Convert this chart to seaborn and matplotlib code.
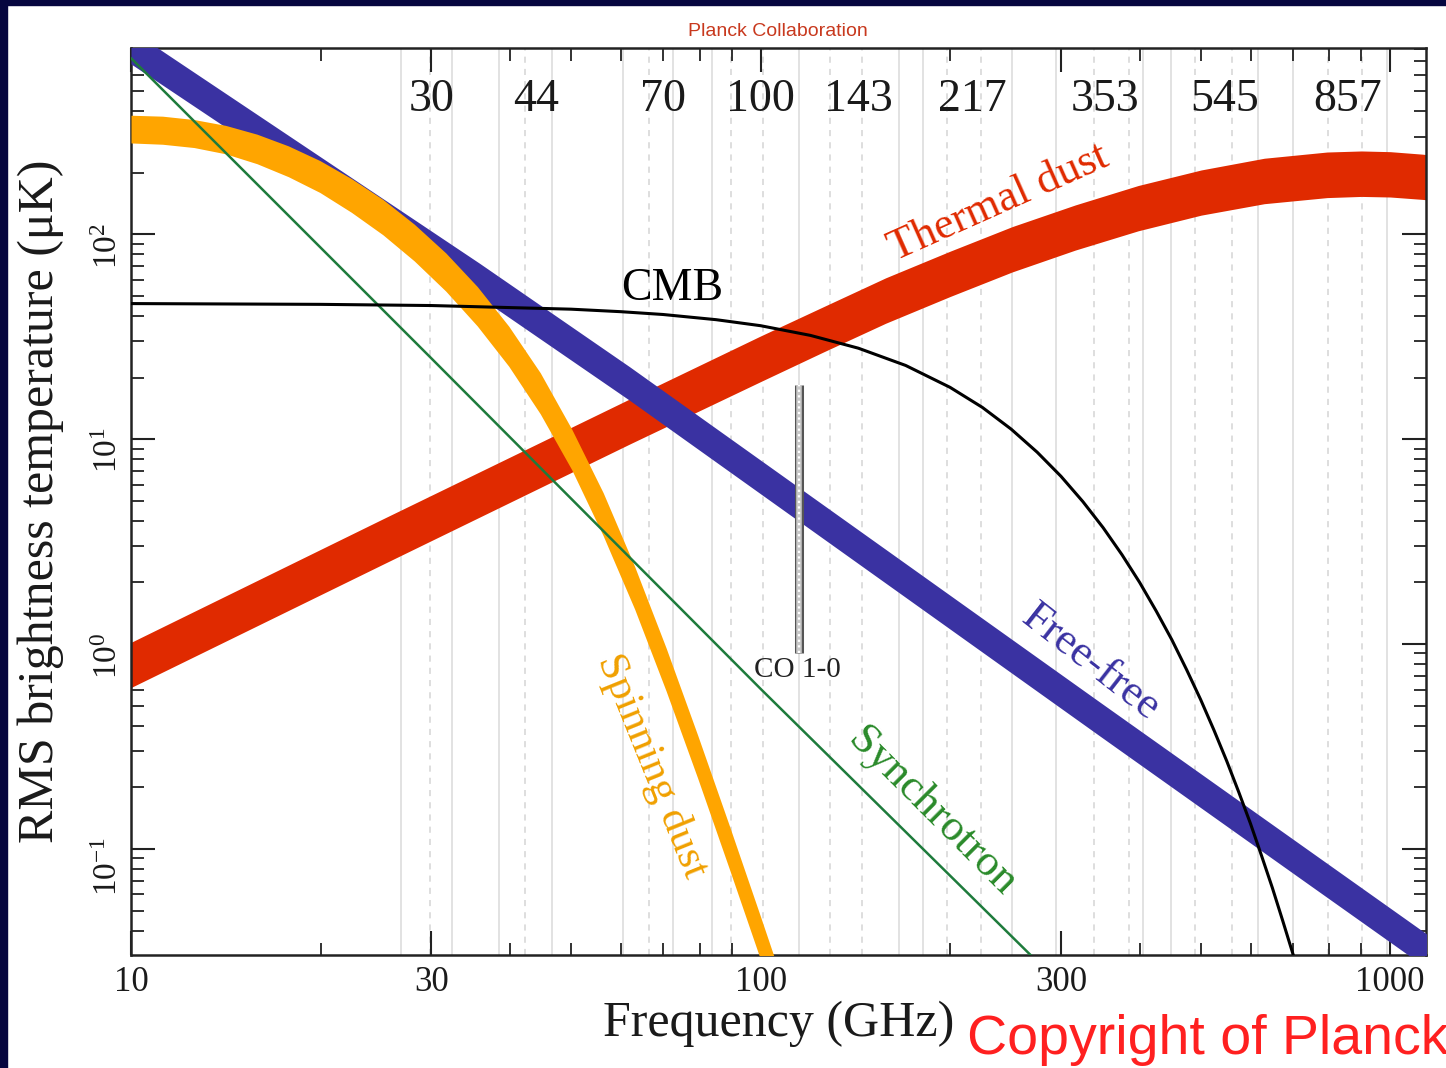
import numpy as np
import pandas as pd
import matplotlib
matplotlib.use("Agg")
import matplotlib.pyplot as plt
import seaborn as sns
from matplotlib.ticker import FixedLocator, FixedFormatter, LogLocator, LogFormatterSciNotation, NullFormatter
from matplotlib.patches import Rectangle

# ---------------- data (GHz, micro-K RJ) ----------------
# Thermal dust band
td_freq = [10, 25.1, 61.9, 100, 126, 158, 200, 251, 316, 398, 501, 631, 794, 900, 1000, 1125, 1259]
td_low = [0.614, 2.45, 9.46, 19.1, 26.7, 36.8, 49.7, 65.5, 83.7, 104, 124, 141, 151, 153, 152, 148, 143]
td_high = [1.02, 4.08, 15.7, 31.9, 44.4, 61.3, 82.7, 109, 139, 173, 206, 235, 252, 255, 253, 246, 237]

# Free-free band
ff_freq = [10, 35.8, 61.9, 345, 718, 1140, 1200]
ff_low = [678, 49.3, 15.5, 0.358, 0.0723, 0.0264, 0.0236]
ff_high = [992, 72.1, 22.6, 0.524, 0.106, 0.0387, 0.0346]

# Spinning dust band
sd_freq = [10.0, 11.22, 12.59, 14.13, 15.85, 17.78, 19.95, 22.39, 25.12, 28.18, 31.62,
           35.48, 39.81, 44.67, 50.12, 56.23, 63.10, 70.79, 79.43, 89.13, 100, 112.2]
sd_low = [279, 275, 265, 247, 221, 191, 160, 128, 99.5, 74.1, 52.8,
          35.7, 22.7, 13.3, 7.10, 3.38, 1.48, 0.590, 0.222, 0.0805, 0.0288, 0.0101]
sd_high = [381, 377, 363, 340, 308, 270, 229, 187, 148, 112, 81.1,
           55.6, 35.6, 21.1, 11.2, 5.48, 2.39, 0.957, 0.360, 0.131, 0.0467, 0.0164]

# Synchrotron
sy_freq = [10, 30, 100, 300]
sy_temp = [724, 24.8, 0.605, 0.0217]

# CMB
cmb_freq = [10, 20, 30, 50, 60, 70, 85, 100, 120, 143, 170, 200, 225, 250, 275, 300, 325, 350,
            375, 400, 425, 450, 475, 500, 525, 550, 575, 600, 625, 650, 675, 700, 725, 750]
cmb_temp = [45.9, 45.5, 44.9, 43.1, 41.9, 40.6, 38.3, 35.8, 32.1, 27.8, 22.9, 17.9, 14.3, 11.2,
            8.64, 6.59, 4.96, 3.70, 2.73, 2.00, 1.45, 1.05, 0.750, 0.536, 0.380, 0.269, 0.189,
            0.133, 0.0924, 0.0646, 0.0447, 0.0311, 0.0214, 0.0148]

# CO 1-0 line marker
co_freq = 115
co_range = [0.9, 18.3]

# Planck channels and band lines
band_labels = ["30", "44", "70", "100", "143", "217", "353", "545", "857"]
band_centers = [30, 44, 70, 100, 143, 217, 353, 545, 857]
band_solid = [26.8, 32.4, 38.4, 46.7, 60.4, 72.5, 83.6, 115, 166, 181, 251, 295, 405, 449, 617, 701, 989]
band_dashed = [29.9, 42.2, 66.6, 89.9, 101, 129, 145, 198, 224, 339, 385, 490, 560, 798, 903]

xticks_major = [10, 30, 100, 300, 1000]
xtick_labels = ["10", "30", "100", "300", "1000"]
xticks_minor = [20, 40, 50, 60, 70, 80, 90, 200, 400, 500, 600, 700, 800, 900]

# ---------------- style ----------------
sns.set_theme(style="ticks")
plt.rcParams["font.family"] = ["Liberation Serif", "DejaVu Serif"]
plt.rcParams["mathtext.fontset"] = "stix"
plt.rcParams["axes.unicode_minus"] = False
plt.rcParams["xtick.direction"] = "in"
plt.rcParams["ytick.direction"] = "in"

RED = "#e02a00"
BLUE = "#3a32a2"
ORANGE = "#ffa500"
GREEN = "#1e7b3c"

W, H = 1446, 1068
fig = plt.figure(figsize=(W / 100, H / 100), dpi=100)
fig.patch.set_facecolor("white")
# dark frame strips
fig.patches.append(Rectangle((0, 0), 7 / W, 1, transform=fig.transFigure, color="#06063f", zorder=0))
fig.patches.append(Rectangle((0, 1 - 5 / H), 1, 5 / H, transform=fig.transFigure, color="#06063f", zorder=0))

ax = fig.add_axes([131 / W, 1 - 955 / H, (1426 - 131) / W, (955 - 48) / H])
ax.set_xscale("log")
ax.set_yscale("log")
ax.set_xlim(10, 1140)
ax.set_ylim(0.0304, 811)
ax.set_facecolor("white")

# band lines
for f in band_solid:
    ax.axvline(f, color="#e2e2e2", lw=1.4, zorder=0.5)
for f in band_dashed:
    ax.axvline(f, color="#d4d4d4", lw=1.1, ls=(0, (4, 4)), zorder=0.5)

# bands
ax.fill_between(td_freq, td_low, td_high, color=RED, lw=0, zorder=2)
ax.fill_between(ff_freq, ff_low, ff_high, color=BLUE, lw=0, zorder=3)
ax.fill_between(sd_freq, sd_low, sd_high, color=ORANGE, lw=0, zorder=4)

# lines via seaborn
sy_df = pd.DataFrame({"freq": sy_freq, "T": sy_temp})
cmb_df = pd.DataFrame({"freq": cmb_freq, "T": cmb_temp})
sns.lineplot(data=sy_df, x="freq", y="T", ax=ax, color=GREEN, lw=1.8, zorder=5, sort=True)
sns.lineplot(data=cmb_df, x="freq", y="T", ax=ax, color="black", lw=2.2, zorder=6, sort=True)

# CO marker
ax.plot([co_freq, co_freq], co_range, color="#555555", lw=6.5, solid_capstyle="butt", zorder=7)
ax.plot([co_freq, co_freq], co_range, color="#c8c8c8", lw=4.0, solid_capstyle="butt", zorder=7)
ax.plot([co_freq, co_freq], co_range, color="white", lw=1.6, ls=(0, (1, 1.5)), zorder=7)

# labels on curves
ax.text(72.3, 54.5, "CMB", fontsize=33, color="black", ha="center", va="center", zorder=8)
ax.text(239, 142, "Thermal dust", fontsize=32, color=RED, rotation=24, ha="center", va="center",
        rotation_mode="anchor", zorder=8)
ax.text(335, 0.81, "Free-free", fontsize=32, color=BLUE, rotation=-38, ha="center", va="center",
        rotation_mode="anchor", zorder=8)
ax.text(187, 0.153, "Synchrotron", fontsize=32, color="#2a8a2a", rotation=-45, ha="center", va="center",
        rotation_mode="anchor", zorder=8)
ax.text(67.1, 0.255, "Spinning dust", fontsize=31, color="#f0a000", rotation=-68, ha="center", va="center",
        rotation_mode="anchor", zorder=8)
ax.text(114.6, 0.75, "CO 1-0", fontsize=21, color="#222222", ha="center", va="center", zorder=8)

# channel labels at the top
trans = ax.get_xaxis_transform()
for lab, c in zip(band_labels, band_centers):
    ax.text(c, 0.943, lab, transform=trans, fontsize=33, color="#1a1a1a", ha="center", va="center", zorder=8)

# ticks
ax.xaxis.set_major_locator(FixedLocator(xticks_major))
ax.xaxis.set_major_formatter(FixedFormatter(xtick_labels))
ax.xaxis.set_minor_locator(FixedLocator(xticks_minor))
ax.xaxis.set_minor_formatter(NullFormatter())
ax.yaxis.set_major_locator(LogLocator(base=10, numticks=12))
ax.yaxis.set_major_formatter(LogFormatterSciNotation())
ax.yaxis.set_minor_locator(LogLocator(base=10, subs=np.arange(2, 10), numticks=12))
ax.yaxis.set_minor_formatter(NullFormatter())

ax.tick_params(which="major", direction="in", length=17, width=1.5, color="#222222",
               top=True, right=True, labelsize=25, labelcolor="#1a1a1a")
ax.tick_params(which="minor", direction="in", length=9, width=1.3, color="#222222", top=True, right=True)
ax.tick_params(axis="x", which="major", pad=8)
ax.tick_params(axis="y", which="major", pad=5, labelrotation=90, labelsize=24)

for s in ax.spines.values():
    s.set_linewidth(1.8)
    s.set_color("#222222")

ax.set_xlabel("Frequency (GHz)", fontsize=36, color="#1a1a1a")
ax.set_ylabel("RMS brightness temperature (\u03bcK)", fontsize=36, color="#1a1a1a")
ax.xaxis.set_label_coords(0.5, -0.05)
ax.yaxis.set_label_coords(-0.052, 0.5)

# figure texts
fig.text(778 / W, 1 - 31 / H, "Planck Collaboration", fontsize=14, color="#c8391e",
         family=["Liberation Sans", "DejaVu Sans"], ha="center", va="center")
fig.text(967 / W, 1 - 1040 / H, "Copyright of Planck Collaboration", fontsize=40, color="#ff2020",
         family=["Liberation Sans Narrow", "Liberation Sans", "DejaVu Sans"], ha="left", va="center")

fig.savefig("out.png", dpi=100)
